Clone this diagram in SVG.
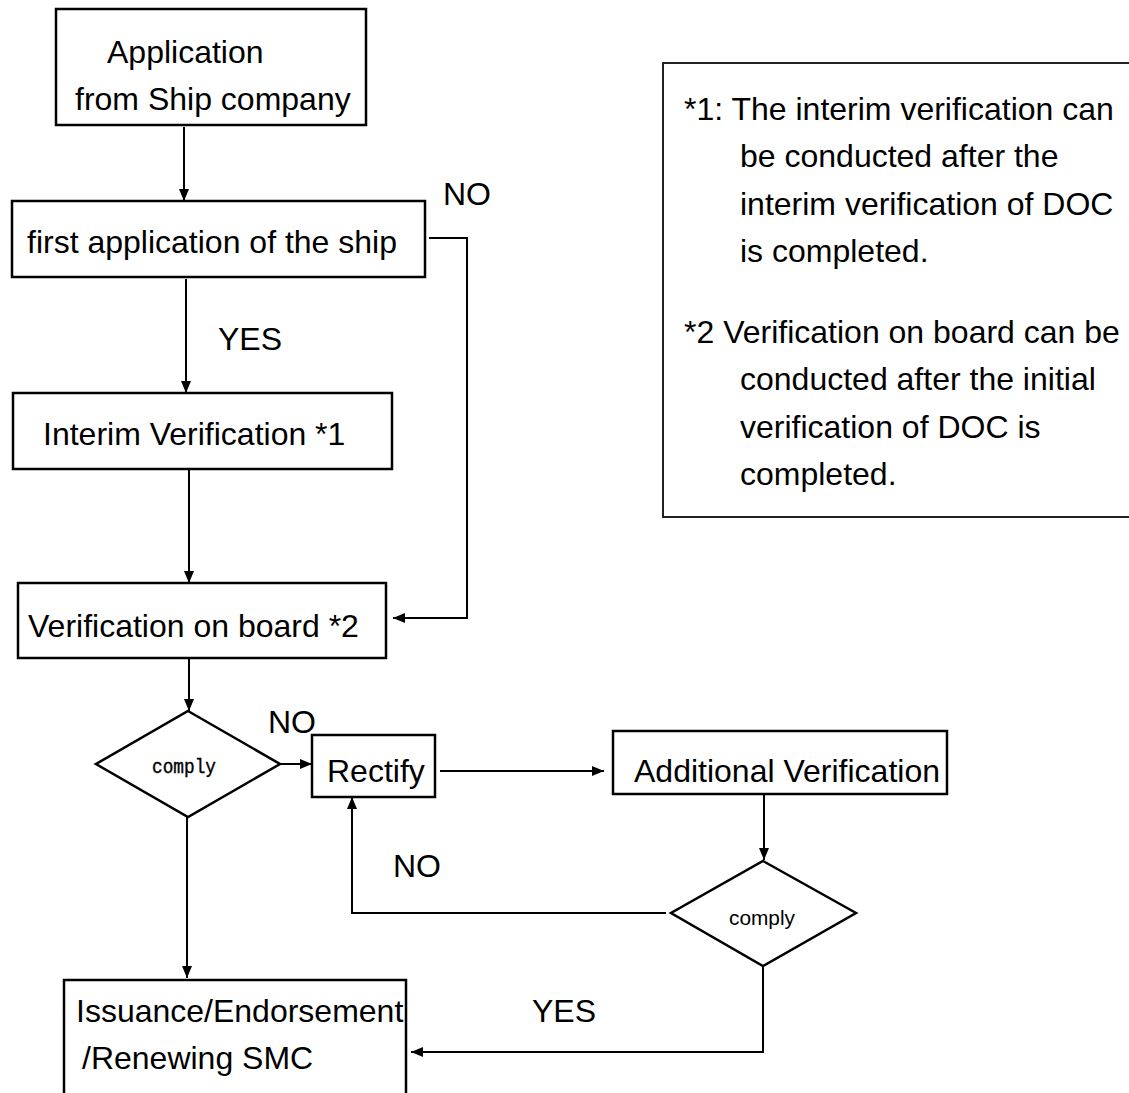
<svg xmlns="http://www.w3.org/2000/svg" width="1129" height="1093" viewBox="0 0 1129 1093">
<style>
.box{fill:#fff;stroke:#000;stroke-width:2.5}
.t{font-family:"Liberation Sans",Arial,sans-serif;font-size:32px;fill:#000}
.ln{fill:none;stroke:#000;stroke-width:2}
.mono{font-family:"Liberation Mono","Courier New",monospace;font-size:20px;fill:#000;stroke:#000;stroke-width:0.4}
</style>
<defs>
<marker id="arr" markerUnits="userSpaceOnUse" markerWidth="12" markerHeight="10" viewBox="0 0 12 10" refX="12" refY="5" orient="auto">
<path d="M0,0 L12,5 L0,10 Z" fill="#000"/>
</marker>
</defs>
<rect width="1129" height="1093" fill="#fff"/>
<g id="legend">
<rect x="663" y="63" width="480" height="454" fill="#fff" stroke="#222" stroke-width="2"/>
<text class="t" x="684" y="120">*1: The interim verification can</text>
<text class="t" x="740" y="167">be conducted after the</text>
<text class="t" x="740" y="215">interim verification of DOC</text>
<text class="t" x="740" y="262">is completed.</text>
<text class="t" x="684" y="343">*2 Verification on board can be</text>
<text class="t" x="740" y="390">conducted after the initial</text>
<text class="t" x="740" y="438">verification of DOC is</text>
<text class="t" x="740" y="485">completed.</text>
</g>
<g id="connectors">
<path class="ln" d="M184,127 V201" marker-end="url(#arr)"/>
<path class="ln" d="M186,279 V393" marker-end="url(#arr)"/>
<path class="ln" d="M189,469 V583" marker-end="url(#arr)"/>
<path class="ln" d="M429,238 H467 V618 H393" marker-end="url(#arr)"/>
<path class="ln" d="M189,658 V711" marker-end="url(#arr)"/>
<path class="ln" d="M280,764 H312" marker-end="url(#arr)"/>
<path class="ln" d="M440,771 H604" marker-end="url(#arr)"/>
<path class="ln" d="M764,793 V860" marker-end="url(#arr)"/>
<path class="ln" d="M666,913 H352 V797" marker-end="url(#arr)"/>
<path class="ln" d="M187,817 V978" marker-end="url(#arr)"/>
<path class="ln" d="M763,966 V1052 H411" marker-end="url(#arr)"/>
<text class="t" x="443" y="205">NO</text>
<text class="t" x="218" y="350">YES</text>
<text class="t" x="268" y="733">NO</text>
<text class="t" x="393" y="877">NO</text>
<text class="t" x="532" y="1022">YES</text>
</g>
<g id="n-application">
<rect class="box" x="56" y="9" width="310" height="116"/>
<text class="t" x="107" y="63">Application</text>
<text class="t" x="75" y="110">from Ship company</text>
</g>
<g id="n-first">
<rect class="box" x="12" y="201" width="413" height="76"/>
<text class="t" x="27" y="253">first application of the ship</text>
</g>
<g id="n-interim">
<rect class="box" x="13" y="393" width="379" height="76"/>
<text class="t" x="43" y="445">Interim Verification *1</text>
</g>
<g id="n-onboard">
<rect class="box" x="18" y="583" width="368" height="75"/>
<text class="t" x="28" y="637">Verification on board *2</text>
</g>
<g id="n-comply1">
<polygon class="box" points="188,711 280,764 188,817 96,764"/>
<text class="mono" x="152" y="773" textLength="64" lengthAdjust="spacingAndGlyphs">comply</text>
</g>
<g id="n-rectify">
<rect class="box" x="312" y="735" width="123" height="62"/>
<text class="t" x="327" y="782">Rectify</text>
</g>
<g id="n-additional">
<rect class="box" x="613" y="731" width="334" height="63"/>
<text class="t" x="634" y="782">Additional Verification</text>
</g>
<g id="n-comply2">
<polygon class="box" points="763,861 856,913 763,966 671,913"/>
<text x="729" y="925" font-family="Liberation Sans, Arial, sans-serif" font-size="20" textLength="66" lengthAdjust="spacingAndGlyphs">comply</text>
</g>
<g id="n-issuance">
<rect class="box" x="64" y="980" width="342" height="140"/>
<text class="t" x="76" y="1022">Issuance/Endorsement</text>
<text class="t" x="82" y="1069">/Renewing SMC</text>
</g>
</svg>
